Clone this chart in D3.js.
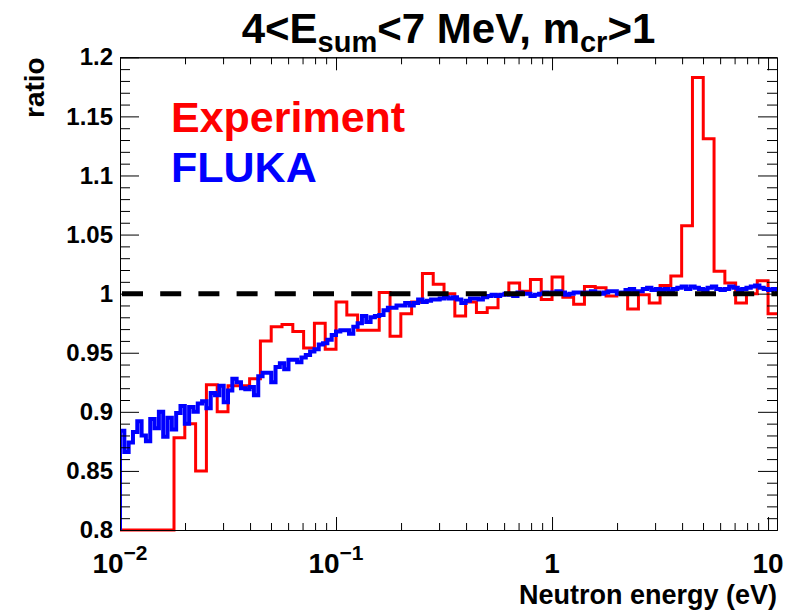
<!DOCTYPE html>
<html>
<head>
<meta charset="utf-8">
<script src="https://cdn.jsdelivr.net/npm/d3@7/dist/d3.min.js"></script>
<style>
  body { margin: 0; background: #fff; }
  svg text { font-family: "Liberation Sans", Arial, Helvetica, sans-serif; font-weight: bold; }
</style>
</head>
<body>
<svg id="chart" width="794" height="613"></svg>
<script>
// ---- data ----------------------------------------------------------------
// Both histograms use log-spaced bins starting at 10^-2 eV.
const binStartEnergy = 0.01;          // eV, lower edge of first bin
const experimentBinDecades = 0.05;    // bin width in decades
const flukaBinDecades = 0.02;

// Experiment / reference ratio per bin (empty bins are 0)
const experiment = [
  0, 0, 0, 0, 0,
  0.878, 0.890, 0.850, 0.923, 0.900, 0.922, 0.922, 0.928, 0.960, 0.972,
  0.974, 0.968, 0.954, 0.975, 0.953, 0.993, 0.982, 0.969, 0.969, 1.001,
  0.964, 0.983, 0.993, 1.017, 1.008, 1.000, 0.981, 0.993, 0.984, 0.988,
  0.999, 1.009, 1.002, 1.012, 0.995, 1.014, 0.997, 0.991, 1.006, 1.005,
  0.998, 1.000, 0.987, 0.999, 0.992, 1.007, 1.015, 1.0575, 1.183, 1.131,
  1.019, 1.009, 0.992, 1.000, 1.011, 0.983
];

// FLUKA simulation ratio per bin
const fluka = [
  0.884, 0.866, 0.874, 0.883, 0.892, 0.880, 0.875, 0.894, 0.886, 0.900,
  0.879, 0.895, 0.885, 0.899, 0.905, 0.890, 0.904, 0.900, 0.907, 0.909,
  0.903, 0.916, 0.914, 0.922, 0.908, 0.918, 0.928, 0.925, 0.920, 0.919,
  0.921, 0.914, 0.930, 0.933, 0.933, 0.925, 0.938, 0.941, 0.936, 0.944,
  0.944, 0.942, 0.946, 0.948, 0.951, 0.953, 0.957, 0.958, 0.961, 0.965,
  0.968, 0.969, 0.969, 0.966, 0.972, 0.975, 0.981, 0.976, 0.980, 0.981,
  0.982, 0.986, 0.988, 0.988, 0.990, 0.990, 0.992, 0.990, 0.992, 0.995,
  0.993, 0.994, 0.995, 0.995, 0.996, 0.997, 0.996, 0.997, 0.995, 0.992,
  0.994, 0.996, 0.996, 0.995, 0.997, 0.998, 0.999, 0.998, 0.999, 1.000,
  0.999, 0.998, 1.001, 1.000, 1.000, 0.998, 0.999, 1.000, 1.001, 1.000,
  1.001, 1.002, 1.001, 0.999, 1.000, 1.001, 1.001, 1.000, 1.001, 1.002,
  1.001, 1.000, 1.001, 1.002, 1.002, 1.000, 1.001, 1.003, 1.004, 1.002,
  1.002, 1.004, 1.005, 1.003, 1.004, 1.003, 1.004, 1.002, 1.004, 1.005,
  1.006, 1.004, 1.006, 1.005, 1.004, 1.003, 1.005, 1.006, 1.004, 1.003,
  1.004, 1.006, 1.005, 1.003, 1.004, 1.005, 1.006, 1.007, 1.005, 1.004,
  1.003, 1.004, 1.001
];

const referenceLevel = 1;

const yMajorTicks = [0.8, 0.85, 0.9, 0.95, 1, 1.05, 1.1, 1.15, 1.2];
const yTickLabels = ["0.8", "0.85", "0.9", "0.95", "1", "1.05", "1.1", "1.15", "1.2"];
const xMajorTicks = [0.01, 0.1, 1, 10];
const xTickBase = ["10", "10", "1", "10"];
const xTickExponent = ["\u22122", "\u22121", "", ""];

const legendNames = ["Experiment", "FLUKA"];
const legendColors = ["#ff0000", "#0000ff"];

// ---- layout ----------------------------------------------------------------
const frame = { left: 120, right: 777, top: 57.3, bottom: 530 };

const svg = d3.select("#chart");

const x = d3.scaleLog().domain([0.01, 11]).range([frame.left, frame.right]);
const y = d3.scaleLinear().domain([0.8, 1.2]).range([frame.bottom, frame.top]).clamp(true);

// minor ticks: y every 0.01, x at 2..9 in each decade
const yMinorTicks = d3.range(80, 121).map(v => v / 100).filter(v => !yMajorTicks.some(m => Math.abs(m - v) < 1e-9));
const xMinorTicks = [];
for (let d = -2; d <= 1; d++) for (let m = 2; m <= 9; m++) {
  const v = m * Math.pow(10, d);
  if (v < 11) xMinorTicks.push(v);
}

svg.append("defs").append("clipPath").attr("id", "plotClip")
  .append("rect")
  .attr("x", frame.left).attr("y", frame.top - 4)
  .attr("width", frame.right - frame.left)
  .attr("height", frame.bottom - frame.top + 8);

// histogram outline drawn as steps from the baseline
function histPath(values, widthDecades) {
  const edge = k => binStartEnergy * Math.pow(10, widthDecades * k);
  const p = d3.path();
  p.moveTo(x(edge(0)), y(0));
  values.forEach((v, k) => {
    p.lineTo(x(edge(k)), y(v));
    p.lineTo(x(edge(k + 1)), y(v));
  });
  p.lineTo(x(edge(values.length)), y(0));
  return p.toString();
}

const plot = svg.append("g").attr("clip-path", "url(#plotClip)");

plot.append("path")
  .attr("d", histPath(experiment, experimentBinDecades))
  .attr("fill", "none").attr("stroke", legendColors[0])
  .attr("stroke-width", 3).attr("stroke-linejoin", "miter");

plot.append("path")
  .attr("d", histPath(fluka, flukaBinDecades))
  .attr("fill", "none").attr("stroke", legendColors[1])
  .attr("stroke-width", 4).attr("stroke-linejoin", "miter");

plot.append("line")
  .attr("x1", frame.left + 2).attr("x2", frame.right)
  .attr("y1", y(referenceLevel)).attr("y2", y(referenceLevel))
  .attr("stroke", "#000").attr("stroke-width", 5)
  .attr("stroke-dasharray", "21 17.2");

// ---- axes (ticks point into the frame) ----------------------------------------
function styleAxis(g) {
  g.selectAll("path.domain").attr("stroke", "#000").attr("stroke-width", 1);
  g.selectAll(".tick line").attr("stroke", "#000").attr("stroke-width", 1);
}

const leftMajor = svg.append("g").attr("transform", `translate(${frame.left},0)`)
  .call(d3.axisLeft(y).tickValues(yMajorTicks).tickSizeInner(-19).tickSizeOuter(0)
    .tickPadding(7).tickFormat((d, i) => yTickLabels[i]));
leftMajor.selectAll("text").attr("font-size", 24).attr("fill", "#000")
  .attr("font-family", "Liberation Sans, Arial, sans-serif").attr("font-weight", "bold");
styleAxis(leftMajor);

svg.append("g").attr("transform", `translate(${frame.left},0)`)
  .call(d3.axisLeft(y).tickValues(yMinorTicks).tickSizeInner(-10).tickSizeOuter(0).tickFormat(""))
  .call(styleAxis);

svg.append("g").attr("transform", `translate(${frame.right},0)`)
  .call(d3.axisRight(y).tickValues(yMajorTicks).tickSizeInner(-19).tickSizeOuter(0).tickFormat(""))
  .call(styleAxis);
svg.append("g").attr("transform", `translate(${frame.right},0)`)
  .call(d3.axisRight(y).tickValues(yMinorTicks).tickSizeInner(-10).tickSizeOuter(0).tickFormat(""))
  .call(styleAxis);

[[frame.bottom, d3.axisBottom], [frame.top, d3.axisTop]].forEach(([pos, axisFn]) => {
  svg.append("g").attr("transform", `translate(0,${pos})`)
    .call(axisFn(x).tickValues(xMajorTicks).tickSizeInner(-13).tickSizeOuter(0).tickFormat(""))
    .call(styleAxis);
  svg.append("g").attr("transform", `translate(0,${pos})`)
    .call(axisFn(x).tickValues(xMinorTicks).tickSizeInner(-7).tickSizeOuter(0).tickFormat(""))
    .call(styleAxis);
});

// x tick labels with superscript exponents
xMajorTicks.forEach((v, i) => {
  const t = svg.append("text")
    .attr("x", x(v)).attr("y", 573)
    .attr("text-anchor", "middle")
    .attr("font-size", 28).attr("fill", "#000");
  t.append("tspan").text(xTickBase[i]);
  if (xTickExponent[i]) {
    t.append("tspan").attr("font-size", 21).attr("dy", -13).text(xTickExponent[i]);
  }
});

// axis titles
svg.append("text")
  .attr("x", frame.right).attr("y", 604)
  .attr("text-anchor", "end").attr("font-size", 27).attr("fill", "#000")
  .text("Neutron energy (eV)");

svg.append("text")
  .attr("transform", `translate(44,${frame.top}) rotate(-90)`)
  .attr("text-anchor", "end").attr("font-size", 28).attr("fill", "#000")
  .text("ratio");

// title with subscripts
const title = svg.append("text")
  .attr("x", (frame.left + frame.right) / 2).attr("y", 43)
  .attr("text-anchor", "middle").attr("font-size", 42).attr("fill", "#000");
title.append("tspan").text("4<E");
title.append("tspan").attr("font-size", 29).attr("dy", 9).text("sum");
title.append("tspan").attr("dy", -9).text("<7 MeV, m");
title.append("tspan").attr("font-size", 29).attr("dy", 9).text("cr");
title.append("tspan").attr("dy", -9).text(">1");

// legend
legendNames.forEach((name, i) => {
  svg.append("text")
    .attr("x", 171).attr("y", 132 + i * 50)
    .attr("font-size", 43).attr("fill", legendColors[i])
    .text(name);
});
</script>
</body>
</html>
